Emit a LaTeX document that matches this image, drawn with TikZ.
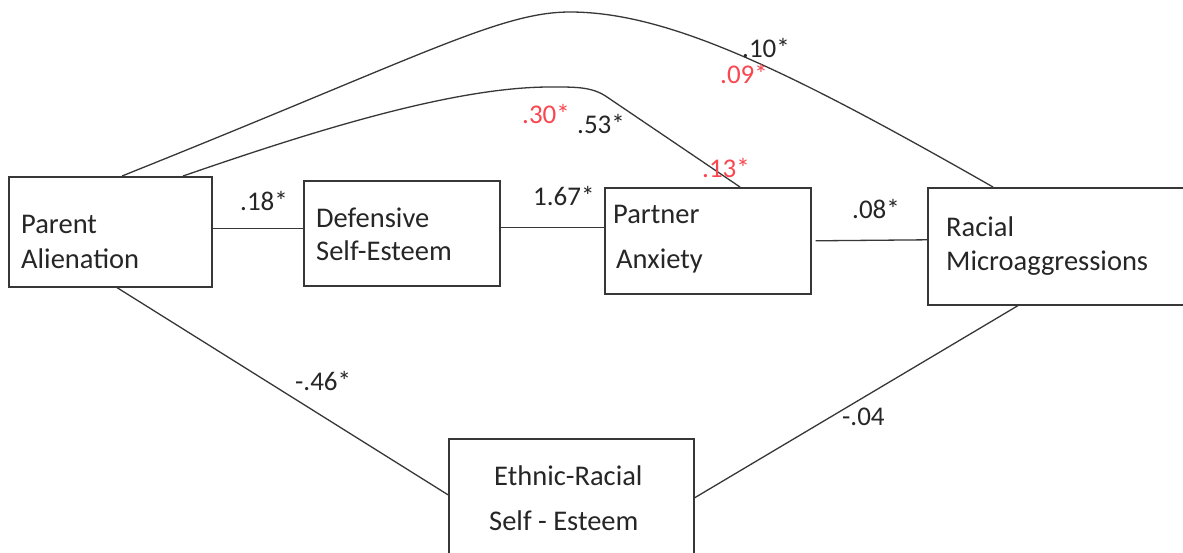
\documentclass[tikz,border=0pt]{standalone}
\usepackage{fontspec}
\setmainfont{Carlito}
\definecolor{ink}{RGB}{38,38,38}
\definecolor{edge}{RGB}{55,55,55}
\definecolor{redlbl}{RGB}{250,70,80}
\begin{document}
\begin{tikzpicture}[x=1pt,y=-1pt,
  box/.style={draw=edge,line width=1.6pt,inner sep=0pt,anchor=north west},
  txt/.style={font=\fontsize{28.5}{34}\selectfont,text=ink,inner sep=0pt,anchor=base west},
  lbl/.style={font=\fontsize{27}{32}\selectfont,text=ink,inner sep=0pt,anchor=base west},
  rlbl/.style={lbl,text=redlbl},
  conn/.style={draw=edge,line width=1.3pt}]
\clip (0,0) rectangle (1183,552);
\fill[white] (0,0) rectangle (1183,552);
% boxes
\node[box,minimum width=203pt,minimum height=110pt] (pa) at (8,176) {};
\node[box,minimum width=196pt,minimum height=105pt] (dse) at (303,180) {};
\node[box,minimum width=206pt,minimum height=106pt] (pan) at (604,187) {};
\node[box,minimum width=265pt,minimum height=117pt] (rm) at (927,187) {};
\node[box,minimum width=245pt,minimum height=122pt] (ers) at (448,438) {};
% box texts
\node[txt] (pa1) at (21,233) {Parent};
\node[txt] (pa2) at (21,268) {Alienation};
\node[txt] (dse1) at (316,227) {Defensive};
\node[txt] (dse2) at (316,260) {Self-Esteem};
\node[txt] (pan1) at (613,223) {Partner};
\node[txt] (pan2) at (616,268) {Anxiety};
\node[txt] (rm1) at (946,236) {Racial};
\node[txt] (rm2) at (946,270) {Microaggressions};
\node[txt] (ers1) at (494,485) {Ethnic-Racial};
\node[txt] (ers2) at (489,530) {Self - Esteem};
% connectors
\draw[conn] ([yshift=3pt]pa.east) -- ([yshift=4.5pt]dse.west);
\draw[conn] ([yshift=5.5pt]dse.east) -- ([yshift=13pt]pan.west);
\draw[conn] ([xshift=4pt]pan.east) -- ([yshift=6.5pt]rm.west);
\draw[conn] ([xshift=109pt]pa.south west) -- ([yshift=5pt]ers.west);
\draw[conn] ([yshift=2pt]ers.east) -- ([xshift=91pt]rm.south west);
\draw[conn] ([xshift=114pt]pa.north west) .. controls (422,56) and (500,12) .. (570,12)
   .. controls (670,12) and (793,73) .. ([xshift=66pt]rm.north west);
\draw[conn] ([xshift=175pt]pa.north west) .. controls (303,134.6) and (450,87) .. (550,87)
   .. controls (575,87) and (592,86.5) .. (607,97) -- ([xshift=136pt]pan.north west);
% labels
\node[lbl] (l18) at (240,210) {.18*};
\node[lbl] (l167) at (533,205) {1.67*};
\node[lbl] (l08) at (852,218) {.08*};
\node[lbl] (l46) at (295,390) {-.46*};
\node[lbl] (l04) at (842,425) {-.04};
\node[lbl] (l10) at (742,57) {.10*};
\node[rlbl] (l09) at (720,83) {.09*};
\node[rlbl] (l30) at (522,123) {.30*};
\node[lbl] (l53) at (577,133) {.53*};
\node[rlbl] (l13) at (702,177) {.13*};
\end{tikzpicture}
\end{document}
